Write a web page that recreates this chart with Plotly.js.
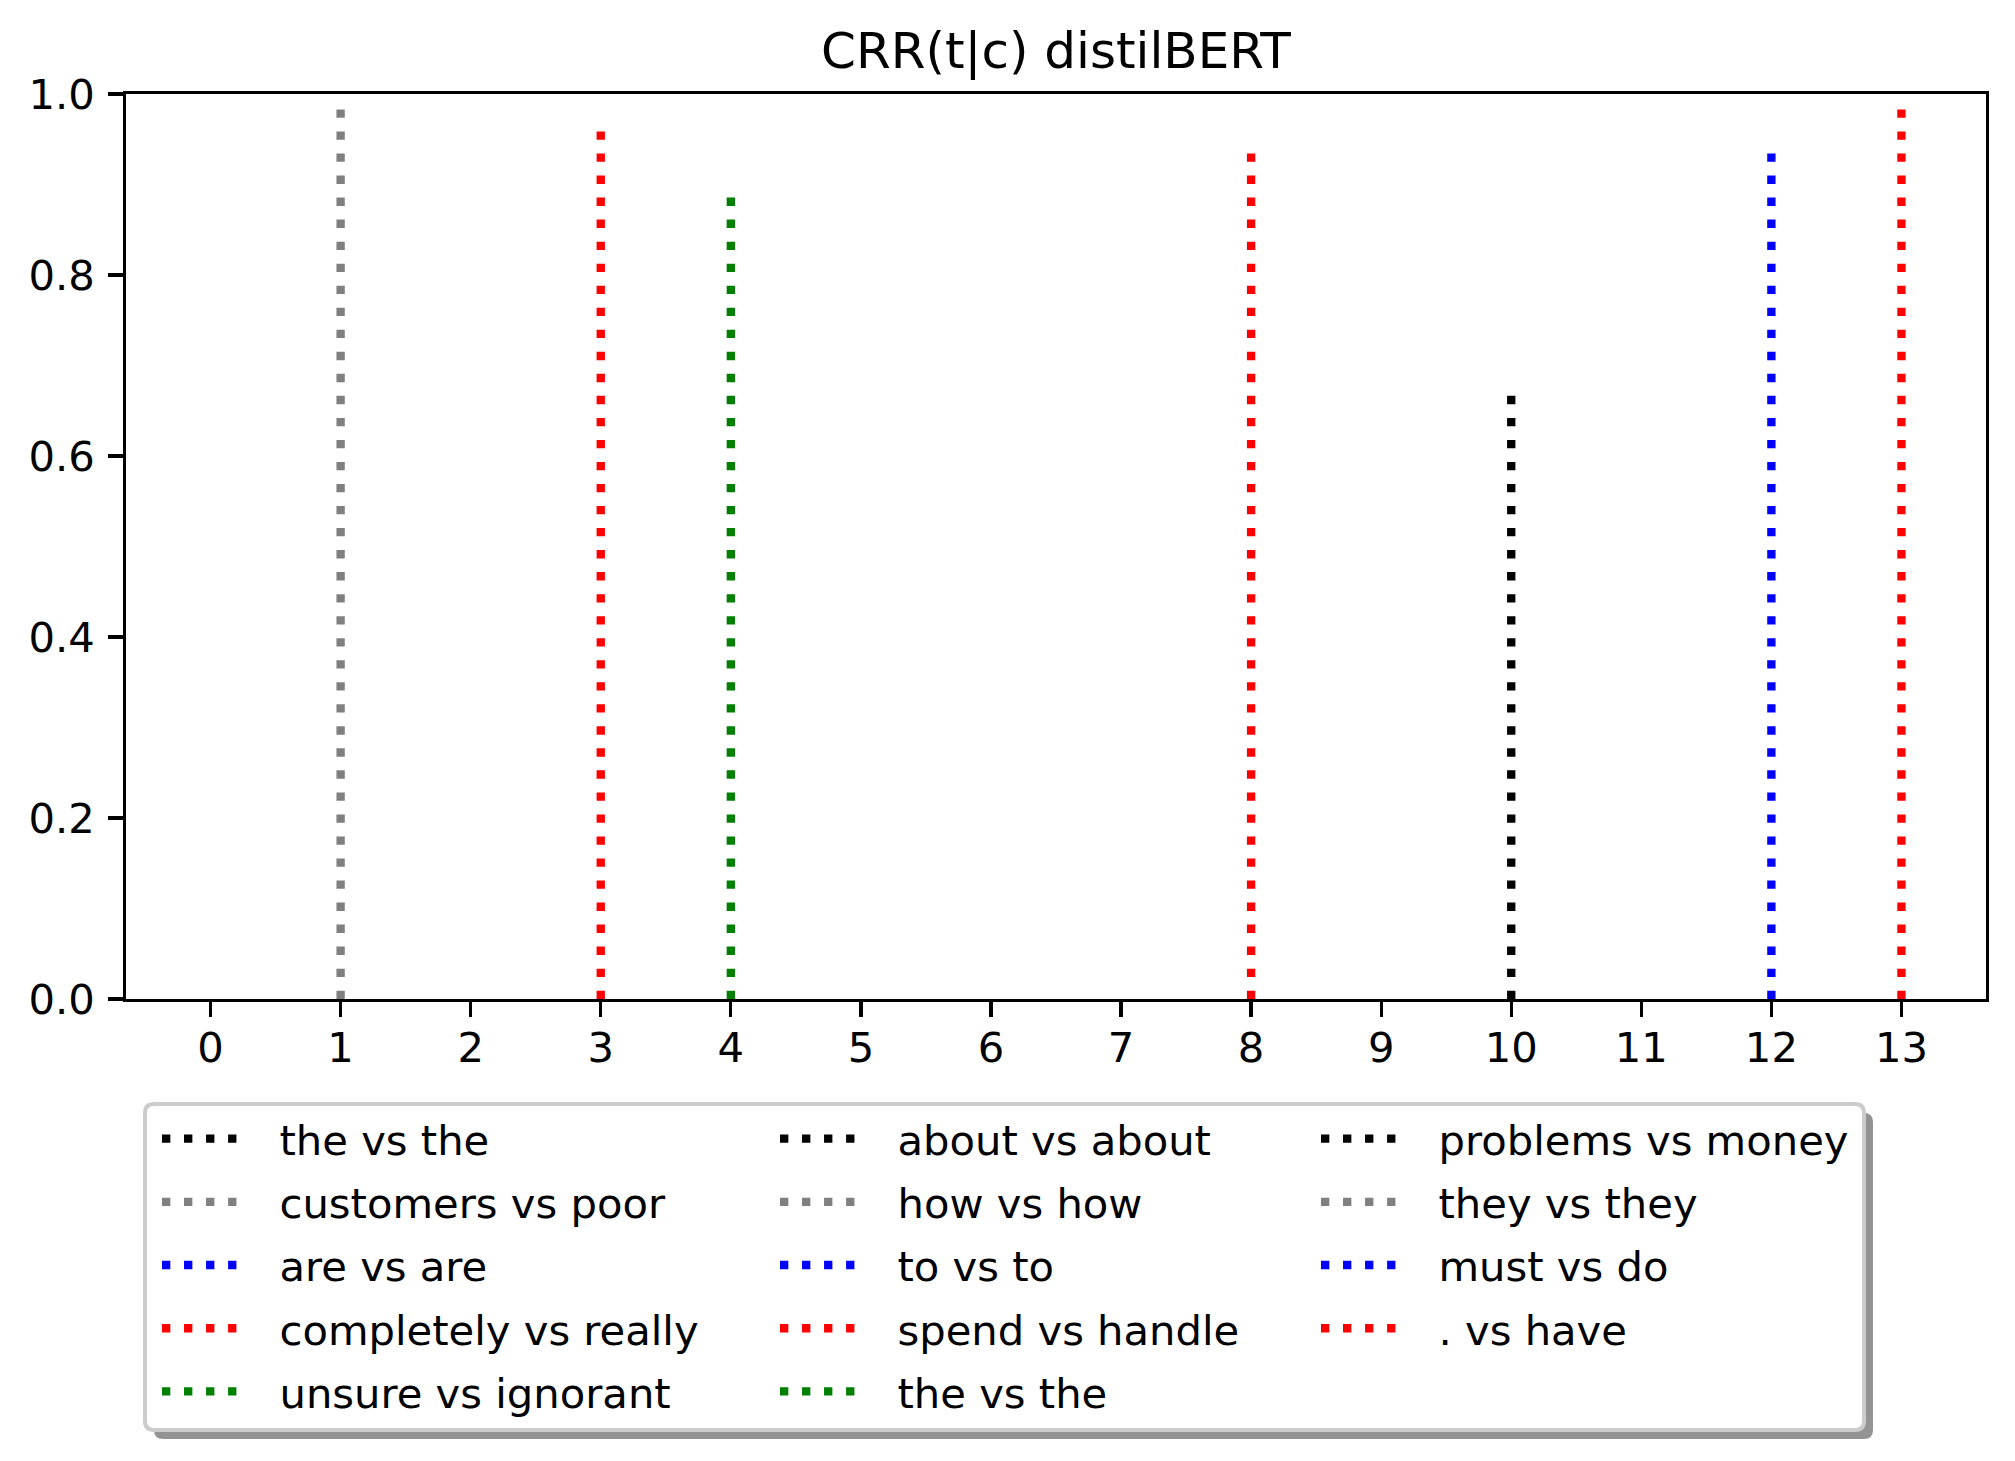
<!DOCTYPE html>
<html>
<head>
<meta charset="utf-8">
<script src="https://cdn.plot.ly/plotly-3.0.1.min.js"></script>
<style>html,body{margin:0;padding:0;background:#fff;}</style>
</head>
<body>
<div id="chart" style="width:2015px;height:1461px;"></div>
<script>
// ---- data ----
const positions = [0, 1, 2, 3, 4, 5, 6, 7, 8, 9, 10, 11, 12, 13];
const tickLabels = ['0', '1', '2', '3', '4', '5', '6', '7', '8', '9', '10', '11', '12', '13'];
const pairLabels = [
  'the vs the', 'customers vs poor', 'are vs are', 'completely vs really', 'unsure vs ignorant',
  'about vs about', 'how vs how', 'to vs to', 'spend vs handle', 'the vs the',
  'problems vs money', 'they vs they', 'must vs do', '. vs have'
];
const crrValues = [0, 0.985, 0, 0.961, 0.888, 0, 0, 0, 0.937, 0, 0.670, 0, 0.937, 0.985];
const lineColors = ['#000000', '#808080', '#0000ff', '#ff0000', '#008000'];
const legendColumn = ['legend', 'legend', 'legend', 'legend', 'legend',
  'legend2', 'legend2', 'legend2', 'legend2', 'legend2',
  'legend3', 'legend3', 'legend3', 'legend3'];

// ---- geometry / style ----
const FIG_W = 2015, FIG_H = 1461;
const M = {l: 126, r: 29, t: 94, b: 462, autoexpand: false};
const PW = FIG_W - M.l - M.r, PH = FIG_H - M.t - M.b;
const FONT = 'DejaVu Sans, Liberation Sans, sans-serif';
const LW = 8.33;
const DOT = '8.33px,13.7px';
const PAD = '\u00a0\u00a0';

const traces = positions.map((p, i) => ({
  type: 'scatter',
  mode: 'lines',
  x: [p, p],
  y: [0, crrValues[i]],
  name: PAD + pairLabels[i],
  legend: legendColumn[i],
  legendgroup: 'g' + i,
  line: {color: lineColors[i % lineColors.length], width: LW, dash: DOT},
  hoverinfo: 'skip'
}));

function px2x(px) { return (px - M.l) / PW; }
function py2y(py) { return (FIG_H - M.b - py) / PH; }
function roundRect(x0, y0, x1, y1, r) {
  const P = (x, y) => px2x(x).toFixed(5) + ',' + py2y(y).toFixed(5);
  return 'M' + P(x0 + r, y0) + ' L' + P(x1 - r, y0) + ' Q' + P(x1, y0) + ' ' + P(x1, y0 + r) +
    ' L' + P(x1, y1 - r) + ' Q' + P(x1, y1) + ' ' + P(x1 - r, y1) +
    ' L' + P(x0 + r, y1) + ' Q' + P(x0, y1) + ' ' + P(x0, y1 - r) +
    ' L' + P(x0, y0 + r) + ' Q' + P(x0, y0) + ' ' + P(x0 + r, y0) + ' Z';
}
const box = {x0: 145, y0: 1104, x1: 1864, y1: 1430};
const SH = 9;

function legendCfg(pxLeft, pxTop) {
  return {
    xref: 'container', yref: 'container',
    x: pxLeft / FIG_W, y: 1 - pxTop / FIG_H,
    xanchor: 'left', yanchor: 'top',
    bgcolor: 'rgba(0,0,0,0)', borderwidth: 0,
    font: {family: FONT, size: 41.7, color: '#000000'},
    itemwidth: 86, tracegroupgap: 6, traceorder: 'grouped',
    itemclick: false, itemdoubleclick: false
  };
}

const layout = {
  width: FIG_W, height: FIG_H,
  margin: M,
  paper_bgcolor: '#ffffff', plot_bgcolor: '#ffffff',
  font: {family: FONT, size: 41.7, color: '#000000'},
  title: {
    text: 'CRR(t|c) distilBERT',
    font: {family: FONT, size: 50, color: '#000000'},
    xref: 'paper', x: 0.5, xanchor: 'center',
    yref: 'container', y: 1 - 50.5 / FIG_H, yanchor: 'middle'
  },
  xaxis: {
    range: [-0.65, 13.65], automargin: false,
    tickmode: 'array', tickvals: positions, ticktext: tickLabels,
    showgrid: false, zeroline: false,
    showline: true, mirror: true, linecolor: '#000000', linewidth: 3.3,
    ticks: 'outside', ticklen: 14.6, tickwidth: 3.3, tickcolor: '#000000',
    ticklabelstandoff: -5,
    tickfont: {family: FONT, size: 41.7, color: '#000000'}
  },
  yaxis: {
    range: [0, 1], dtick: 0.2, tick0: 0, tickformat: '.1f', automargin: false,
    showgrid: false, zeroline: false,
    showline: true, mirror: true, linecolor: '#000000', linewidth: 3.3,
    ticks: 'outside', ticklen: 14.6, tickwidth: 3.3, tickcolor: '#000000',
    ticklabelstandoff: 5,
    tickfont: {family: FONT, size: 41.7, color: '#000000'}
  },
  showlegend: true,
  legend: legendCfg(157, 1105),
  legend2: legendCfg(775, 1105),
  legend3: legendCfg(1316, 1105),
  shapes: [
    {type: 'path', xref: 'paper', yref: 'paper', layer: 'above',
     path: roundRect(box.x0 + SH, box.y0 + SH, box.x1 + SH, box.y1 + SH, 9),
     fillcolor: '#939393', line: {width: 0}},
    {type: 'path', xref: 'paper', yref: 'paper', layer: 'above',
     path: roundRect(box.x0, box.y0, box.x1, box.y1, 9),
     fillcolor: '#ffffff', line: {color: '#cccccc', width: 4}}
  ]
};

Plotly.newPlot('chart', traces, layout, {displayModeBar: false, staticPlot: true});
</script>
</body>
</html>
